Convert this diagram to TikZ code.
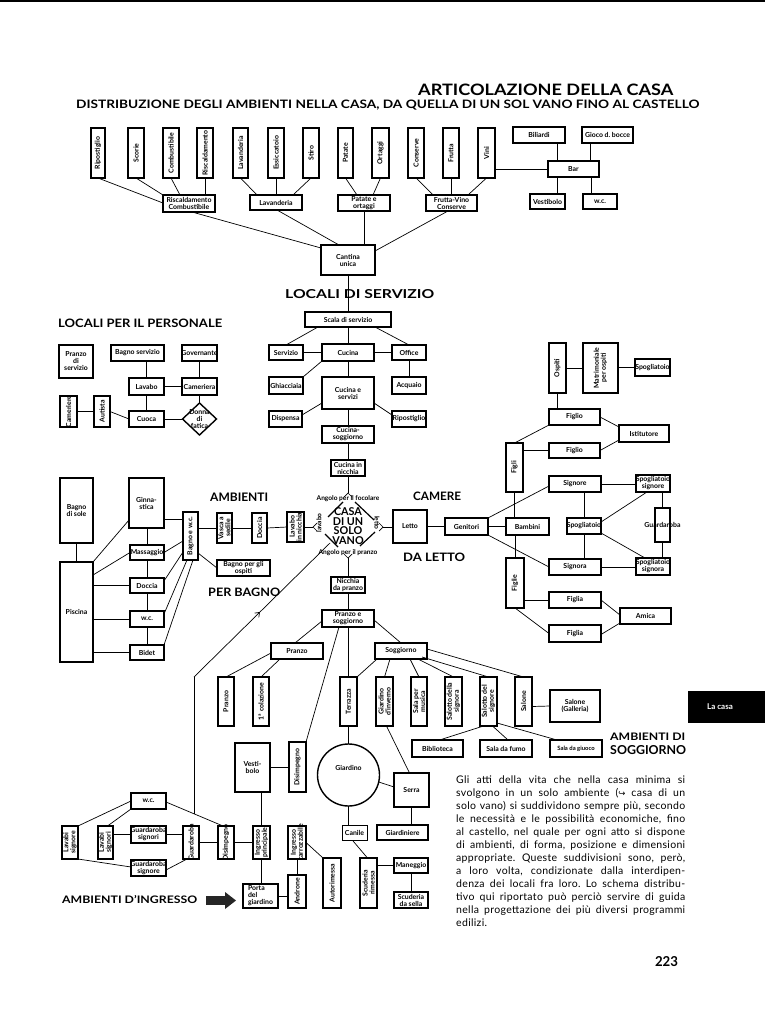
\documentclass[tikz,border=0pt]{standalone}
\usepackage{fontspec}
\usepackage{graphicx}
\setmainfont{Lato}
\newfontfamily\dejavu{DejaVu Sans}
\newfontfamily\parafont[LetterSpace=3]{Lato}
\usetikzlibrary{calc,shapes.geometric,arrows.meta}
\tikzset{
  box/.style={draw,line width=1.4pt,inner sep=0pt,outer sep=0pt},
  lbl/.style={font=\fontsize{6.9}{7}\selectfont\bfseries,align=center,inner sep=0pt},
  small/.style={font=\fontsize{6.6}{7}\selectfont\bfseries,inner sep=0pt},
  con/.style={line width=0.7pt},
  hd/.style={inner sep=0pt,anchor=west},
  para/.style={inner sep=0pt,anchor=base west,font=\parafont\fontsize{10.5}{13}\selectfont},
}
\newcommand\bx[7][]{%
  \pgfmathsetmacro\bw{#5-#3}\pgfmathsetmacro\bh{#6-#4}%
  \node[box,minimum width=\bw pt,minimum height=\bh pt] (#2) at ({(#3+#5)/2},{(#4+#6)/2}) {};
  \node[lbl,#1] (#2l) at (#2.center) {#7};}
\newcommand\bv[7][]{%
  \pgfmathsetmacro\bw{#5-#3}\pgfmathsetmacro\bh{#6-#4}%
  \node[box,minimum width=\bw pt,minimum height=\bh pt] (#2) at ({(#3+#5)/2},{(#4+#6)/2}) {};
  \node[lbl,rotate=90,#1] (#2l) at (#2.center) {#7};}
\newcommand\hdtext[3]{\resizebox{#1pt}{#2pt}{\bfseries #3}}
\frenchspacing
\begin{document}
\begin{tikzpicture}[x=1pt,y=-1pt]
\useasboundingbox (0,0) rectangle (765,1024);
\fill[white] (0,0) rectangle (765,1024);
\fill[black] (0,0) rectangle (765,2.5);

% ---------- titles ----------
\node[hd] (title) at (418,90) {\hdtext{255}{11.5}{ARTICOLAZIONE DELLA CASA}};
\node[hd] (subtitle) at (76,105) {\hdtext{623}{8.5}{DISTRIBUZIONE DEGLI AMBIENTI NELLA CASA, DA QUELLA DI UN SOL VANO FINO AL CASTELLO}};

% ---------- cantina ----------
\bv{rip1}{91}{128}{105}{178}{Ripostiglio}
\bv{scor}{128}{128}{144}{178}{Scorie}
\bv{comb}{163}{128}{179}{178}{Combustibile}
\bv{risc}{197}{128}{213}{178}{Riscaldamento}
\bv{lav1}{233}{128}{248}{178}{Lavanderia}
\bv{essi}{268}{128}{284}{178}{Essiccatoio}
\bv{stir}{303}{128}{319}{178}{Stiro}
\bv{pata}{338}{128}{353}{178}{Patate}
\bv{orta}{372}{128}{389}{178}{Ortaggi}
\bv{cons}{408}{128}{424}{178}{Conserve}
\bv{frut}{443}{128}{459}{178}{Frutta}
\bv{vini}{478}{128}{495}{178}{Vini}
\bx{riscomb}{163}{195}{215}{212}{Riscaldamento\\Combustibile}
\bx{lav2}{250}{195}{302}{210}{Lavanderia}
\bx{patort}{338}{195}{390}{211}{Patate e\\ortaggi}
\bx{frvc}{426}{195}{477}{211}{Frutta-Vino\\Conserve}
\bx{cantina}{321}{245}{375}{275}{Cantina\\unica}
\bx{bil}{513}{127}{565}{143}{Biliardi}
\bx{goc}{582}{127}{633}{143}{Gioco d. bocce}
\bx{bar}{548}{161}{599}{177}{Bar}
\bx{vest1}{530}{194}{565}{209}{Vestibolo}
\bx{wc1}{583}{194}{617}{209}{w.c.}

\draw[con] (rip1.south) -- ($(riscomb.north west)+(0,8)$);
\draw[con] (scor.south) -- (riscomb.north west);
\draw[con] (comb.south) -- ($(riscomb.north west)+(17,0)$);
\draw[con] (risc.south) -- (risc.south |- riscomb.north);
\draw[con] ($(riscomb.south west)+(29,0)$) -- ($(cantina.north west)+(0,3)$);
\draw[con] (lav1.south) -- ($(lav2.north west)+(7,0)$);
\draw[con] (essi.south) -- (essi.south |- lav2.north);
\draw[con] (stir.south) -- ($(lav2.north east)+(-9,0)$);
\draw[con] ($(lav2.south)+(1,0)$) -- ($(cantina.north)+(-9,0)$);
\draw[con] (pata.south) -- ($(patort.north west)+(19,0)$);
\draw[con] (orta.south) -- ($(patort.north west)+(35,0)$);
\draw[con] (patort.south) -- (patort.south |- cantina.north);
\draw[con] (cons.south) -- ($(frvc.north west)+(7,0)$);
\draw[con] (frut.south) -- (frut.south |- frvc.north);
\draw[con] (vini.south) -- ($(frvc.north east)+(-9,0)$);
\draw[con] ($(frvc.south west)+(22,0)$) -- ($(cantina.north east)+(0,6)$);
\draw[con] (vini.east |- bar.west) -- (bar.west);
\draw[con] ($(bil.south west)+(44,0)$) -- ($(bar.north west)+(9,0)$);
\draw[con] ($(goc.south west)+(8,0)$) -- ($(bar.north west)+(42,0)$);
\draw[con] ($(bar.south west)+(9,0)$) -- ($(vest1.north west)+(27,0)$);
\draw[con] ($(bar.south west)+(43,0)$) -- ($(wc1.north west)+(8,0)$);

% ---------- locali di servizio ----------
\bx{scala}{305}{312}{391}{327}{Scala di servizio}
\bx{serv}{269}{345}{303}{360}{Servizio}
\bx{cuc}{322}{344}{374}{361}{Cucina}
\bx{offi}{392}{345}{426}{360}{Office}
\bx{ghia}{269}{377}{303}{394}{Ghiacciaia}
\bx{cucs}{322}{377}{374}{409}{Cucina e\\servizi}
\bx{acqu}{392}{377}{426}{394}{Acquaio}
\bx{disp}{269}{411}{302}{427}{Dispensa}
\bx{ripo}{392}{411}{426}{427}{Ripostiglio}
\bx{cucsog}{322}{426}{374}{443}{Cucina-\\soggiorno}
\bx{cucn}{331}{460}{365}{476}{Cucina in\\nicchia}
\node[hd] (hserv) at (285,294) {\hdtext{149}{9}{LOCALI DI SERVIZIO}};
\draw[con] (cantina.south) -- (cantina.south |- scala.north);
\draw[con] (scala.south) -- (scala.south |- cuc.north);
\draw[con] ($(scala.south west)+(13,0)$) -- (serv.north);
\draw[con] ($(scala.south east)+(-16,0)$) -- (offi.north);
\draw[con] (serv.east) -- (cuc.west);
\draw[con] (cuc.east) -- (offi.west);
\draw[con] (cuc.south west) -- (ghia.north east);
\draw[con] (cuc.south) -- (cucs.north);
\draw[con] (offi.south) -- (acqu.north);
\draw[con] ($(cucs.south west)+(0,-6)$) -- ($(disp.north east)+(0,4)$);
\draw[con] ($(cucs.south east)+(0,-6)$) -- ($(ripo.north west)+(0,4)$);
\draw[con] (cucs.south) -- (cucsog.north);
\draw[con] (cucsog.south) -- (cucn.north);

% ---------- locali per il personale ----------
\node[hd] (hpers) at (58,323) {\hdtext{164}{8.5}{LOCALI PER IL PERSONALE}};
\bx{pds}{59}{345}{93}{378}{Pranzo\\di\\servizio}
\bx{bgs}{111}{345}{164}{361}{Bagno servizio}
\bx{gov}{182}{345}{217}{361}{Governante}
\bx{lavp}{129}{378}{164}{395}{Lavabo}
\bx{came}{182}{378}{217}{395}{Cameriera}
\bv{camr}{60}{396}{77}{427}{Cameriere}
\bv{auti}{94}{396}{110}{427}{Autista}
\bx{cuoc}{129}{411}{164}{427}{Cuoca}
\node[box,diamond,minimum width=34pt,minimum height=32pt] (dfat) at (199.5,419) {};
\node[lbl] (dfatl) at (dfat.center) {Donna\\di\\fatica};
\draw[con] (lavp.north |- bgs.south) -- (lavp.north);
\draw[con] (lavp.south) -- (cuoc.north);
\draw[con] (lavp.east) -- (came.west);
\draw[con] (gov.south) -- (came.north);
\draw[con] (came.south) -- (dfat.north);
\draw[con] (cuoc.east) -- (dfat.west);
\draw[con] (camr.east) -- (auti.west);
\draw[con] (auti.east) -- (cuoc.west);

% ---------- casa di un solo vano ----------
\coordinate (ftop) at (348,493);
\coordinate (fbot) at (348,558);
\coordinate (fleft) at (313,527);
\coordinate (fright) at (383,527);
\draw[con] (cucn.south) -- (ftop);
\draw[con] (344,497) -- (ftop) -- (352,497);
\draw[con] (344,554) -- (fbot) -- (352,554);
\draw[con] (317,523) -- (fleft) -- (317,531);
\draw[con] (379,523) -- (fright) -- (379,531);
\draw[line width=1.2pt] (328,517) -- (343,502);
\draw[line width=1.2pt] (355,502) -- (374,520);
\draw[line width=1.2pt] (325,534) -- (338,547);
\draw[line width=1.2pt] (360,546) -- (375,532);
\node[small] (afoc) at (348,499) {Angolo per il focolare};
\node[small] (apra) at (348,553) {Angolo per il pranzo};
\node[small,rotate=90] (tlav) at (319,523) {lavabo};
\node[small,rotate=-90] (tlet) at (377,523) {letto};
\node[inner sep=0pt,align=center,font=\fontsize{10.8}{9.6}\selectfont\bfseries] (casa) at (348,526) {CASA\\DI UN\\SOLO\\VANO};
\coordinate (octbl) at (330,543);

% ---------- bagno ----------
\node[hd] (hamb) at (210,497) {\hdtext{58}{8.5}{AMBIENTI}};
\node[hd] (hbag) at (208,592) {\hdtext{72}{8.5}{PER BAGNO}};
\bx{bsol}{60}{478}{93}{543}{Bagno\\di sole}
\bx{pisc}{60}{562}{93}{662}{Piscina}
\bx{ginn}{129}{478}{164}{528}{Ginna-\\stica}
\bx{mass}{130}{545}{164}{560}{Massaggio}
\bx{docc}{130}{578}{164}{593}{Doccia}
\bx{wcb}{130}{611}{164}{627}{w.c.}
\bx{bide}{130}{645}{164}{660}{Bidet}
\bv{bwc}{183}{512}{198}{560}{Bagno e w.c.}
\bv{vasc}{217}{513}{232}{543}{Vasca a\\sedile}
\bv{doc2}{252}{513}{267}{543}{Doccia}
\bv{lavn}{287}{512}{304}{542}{Lavabo\\in nicchia}
\bx{bop}{217}{560}{270}{576}{Bagno per gli\\ospiti}
\draw[con] (bsol.south) -- (pisc.north);
\draw[con] (pisc.north east) -- ($(ginn.south west)+(0,-8)$);
\draw[con] ($(pisc.north east)+(0,13)$) -- (mass.west);
\draw[con] (docc.west -| pisc.east) -- (docc.west);
\draw[con] (wcb.west -| pisc.east) -- (wcb.west);
\draw[con] (bide.west -| pisc.east) -- (bide.west);
\draw[con] (mass.north |- ginn.south) -- (mass.north);
\draw[con] (mass.south) -- (docc.north);
\draw[con] (docc.south) -- (wcb.north);
\draw[con] (wcb.south) -- (bide.north);
\draw[con] ($(ginn.south east)+(0,-9)$) -- ($(bwc.north west)+(0,7)$);
\draw[con] (mass.east) -- ($(bwc.south west)+(0,-19)$);
\draw[con] ($(docc.north east)+(0,3)$) -- ($(bwc.south west)+(0,-8)$);
\draw[con] ($(wcb.north east)+(0,3)$) -- ($(bwc.south west)+(4,0)$);
\draw[con] (bide.north east) -- ($(bwc.south west)+(10,0)$);
\draw[con] (bwc.east |- vasc.west) -- (vasc.west);
\draw[con] (vasc.east) -- (doc2.west);
\draw[con] (doc2.east) -- (lavn.west);
\draw[con] (lavn.east) -- (fleft);
\draw[con] ($(bwc.south east)+(0,-7)$) -- (bop.west);

% ---------- camere da letto ----------
\node[hd] (hcam) at (413,496) {\hdtext{48}{8.5}{CAMERE}};
\node[hd] (hlet) at (403,557) {\hdtext{62}{8.5}{DA LETTO}};
\bx{letto}{393}{510}{427}{543}{Letto}
\bx{geni}{445}{518}{488}{535}{Genitori}
\bx{bamb}{506}{518}{549}{535}{Bambini}
\bv{figli}{506}{443}{523}{492}{Figli}
\bv{figle}{506}{558}{524}{608}{Figlie}
\bv{osp}{549}{343}{566}{393}{Ospiti}
\bv{matr}{583}{343}{618}{393}{Matrimoniale\\per ospiti}
\bx{spo1}{635}{359}{670}{376}{Spogliatoio}
\bx{fig1}{549}{409}{600}{425}{Figlio}
\bx{isti}{619}{425}{669}{442}{Istitutore}
\bx{fig2}{549}{443}{600}{458}{Figlio}
\bx{sign}{549}{476}{601}{492}{Signore}
\bx{spsg}{636}{475}{670}{492}{Spogliatoio\\signore}
\bx{guar}{655}{508}{670}{542}{Guardaroba}
\bx{spo2}{567}{518}{601}{534}{Spogliatoio}
\bx{sigr}{549}{559}{601}{575}{Signora}
\bx{spsa}{636}{558}{670}{575}{Spogliatoio\\signora}
\bx{figa1}{549}{592}{601}{608}{Figlia}
\bx{amic}{620}{608}{671}{624}{Amica}
\bx{figa2}{549}{625}{601}{642}{Figlia}
\draw[con] (fright) -- (fright -| letto.west);
\draw[con] (letto.east |- geni.west) -- (geni.west);
\draw[con] (geni.east) -- (bamb.west);
\draw[con] (figli.south) -- (figli.south |- bamb.north);
\draw[con] (figle.north) -- (figle.north |- bamb.south);
\draw[con] (osp.east) -- (matr.west);
\draw[con] (matr.east |- spo1.west) -- (spo1.west);
\draw[con] (osp.south) -- (osp.south |- fig1.north);
\draw[con] (fig1.east) -- ($(isti.north west)+(0,2)$);
\draw[con] (fig2.east) -- ($(isti.south west)+(0,-2)$);
\draw[con] (figli.north) -- (fig1.south west);
\draw[con] (fig2.west -| figli.east) -- (fig2.west);
\draw[con] (geni.north east) -- ($(sign.south west)+(0,-6)$);
\draw[con] (geni.south east) -- (sigr.west);
\draw[con] (sign.east) -- (sign.east -| spsg.west);
\draw[con] (spo2.north |- sign.south) -- (spo2.north);
\draw[con] (spo2.south) -- (spo2.south |- sigr.north);
\draw[con] (sigr.east) -- (sigr.east -| spsa.west);
\draw[con] ($(spsg.south west)+(11,0)$) -- ($(spo2.north east)+(0,4)$);
\draw[con] ($(spo2.south east)+(0,-1)$) -- ($(spsa.north west)+(9,0)$);
\draw[con] (guar.north |- spsg.south) -- (guar.north);
\draw[con] (guar.south) -- (guar.south |- spsa.north);
\draw[con] (figa1.west -| figle.east) -- (figa1.west);
\draw[con] (figle.south) -- (figa2.west);
\draw[con] (figa1.east) -- ($(amic.west)+(0,-1)$);
\draw[con] ($(figa2.east)+(0,1)$) -- ($(amic.south west)+(0,-1)$);

% ---------- pranzo e soggiorno ----------
\bx{nic}{331}{577}{365}{593}{Nicchia\\da pranzo}
\bx{pes}{322}{610}{374}{627}{Pranzo e\\soggiorno}
\bx{pran}{271}{643}{323}{659}{Pranzo}
\bx{sogg}{375}{643}{427}{659}{Soggiorno}
\bv{pran1}{218}{677}{234}{726}{Pranzo}
\bv{cola}{253}{677}{269}{726}{1ª colazione}
\bv{terr}{340}{677}{357}{726}{Terrazza}
\bv{gdin}{376}{677}{393}{726}{Giardino\\d'inverno}
\bv{spm}{411}{677}{427}{726}{Sala per\\musica}
\bv{ssig}{445}{677}{462}{726}{Salotto della\\signora}
\bv{ssgn}{480}{677}{497}{726}{Salotto del\\signore}
\bv{salo}{515}{677}{532}{726}{Salone}
\bx{salg}{550}{690}{600}{722}{Salone\\(Galleria)}
\bx{bibl}{412}{740}{463}{757}{Biblioteca}
\bx{sfum}{480}{740}{532}{757}{Sala da fumo}
\bx[font=\fontsize{5.9}{6}\selectfont\bfseries]{sgiu}{550}{740}{602}{757}{Sala da giuoco}
\node[hd] (hsog1) at (610,737) {\hdtext{75}{7.5}{AMBIENTI DI}};
\node[hd] (hsog2) at (610,750) {\hdtext{76}{9}{SOGGIORNO}};
\draw[con] (fbot) -- (nic.north);
\draw[con] (nic.south) -- (pes.north);
\draw[con] ($(pes.south west)+(0,-6)$) -- ($(pran.north)+(-2,0)$);
\draw[con] ($(pes.south east)+(0,-7)$) -- (sogg.north);
\draw[con] ($(pran.south west)+(0,-6)$) -- (pran1.north);
\draw[con] ($(pran.south west)+(9,0)$) -- (cola.north);
\draw[con] (terr.north |- pes.south) -- (terr.north);
\draw[con] ($(sogg.south west)+(2,0)$) -- (terr.north east);
\draw[con] ($(sogg.south west)+(15,0)$) -- (gdin.north);
\draw[con] ($(sogg.south)+(9,0)$) -- (spm.north);
\draw[con] ($(sogg.south east)+(-9,0)$) -- (ssig.north);
\draw[con] ($(sogg.south east)+(-5,-2)$) -- (ssgn.north);
\draw[con] ($(sogg.east)+(0,-2)$) -- (salo.north);
\draw[con] ($(salo.east)+(0,5)$) -- (salg.west);
\draw[con] ($(ssgn.south)+(-5,0)$) -- ($(bibl.north)+(2,0)$);
\draw[con] ($(ssgn.south)+(4,0)$) -- ($(sfum.north)+(2,0)$);
\draw[con] ($(ssgn.south east)+(0,-3)$) -- ($(sgiu.north west)+(7,0)$);

% ---------- giardino ----------
\node[box,circle,minimum size=62pt] (giar) at (348.5,775) {};
\node[lbl] (giarl) at (348.5,768) {Giardino};
\bx{serra}{394}{773}{429}{807}{Serra}
\bx{gard}{377}{825}{428}{840}{Giardiniere}
\node[draw,line width=0.7pt,inner sep=0pt,minimum width=25pt,minimum height=15pt] (cani) at (354.5,832.5) {};
\node[lbl] (canil) at (cani.center) {Canile};
\bv{scri}{360}{858}{377}{908}{Scuderia\\rimessa}
\bx{mane}{394}{858}{428}{873}{Maneggio}
\bx{sdsl}{394}{892}{428}{908}{Scuderia\\da sella}
\bv{autor}{323}{858}{341}{908}{Autorimessa}
\draw[con] (terr.south) -- (giar.north);
\draw[con] ($(gdin.south)+(2,0)$) -- ($(serra.north)+(-2,0)$);
\draw[con] (giar.-13) -- ($(serra.west)+(0,-3)$);
\draw[con] (serra.south) -- (serra.south |- gard.north);
\draw[con] (giar.south) -- (giar.south |- cani.north);
\draw[con] ($(cani.south)+(-2,0)$) -- ($(scri.north)+(-1,0)$);
\draw[con] (mane.west -| scri.east) -- (mane.west);
\draw[con] (mane.south) -- (sdsl.north);

% ---------- ingresso ----------
\bx{vest2}{235}{743}{270}{792}{Vesti-\\bolo}
\bv{dis1}{289}{742}{306}{792}{Disimpegno}
\bx{wc2}{131}{793}{166}{809}{w.c.}
\bv{lvse}{62}{826}{78}{859}{Lavabi\\signore}
\bv{lvsi}{98}{826}{113}{859}{Lavabi\\signori}
\bx{gsi}{131}{826}{166}{843}{Guardaroba\\signori}
\bx{gse}{131}{860}{166}{876}{Guardaroba\\signore}
\bv{guar2}{183}{826}{199}{859}{Guardaroba}
\bv{dis2}{218}{826}{234}{859}{Disimpegno}
\bv{ingp}{253}{826}{270}{859}{Ingresso\\principale}
\bv{ingc}{288}{826}{306}{859}{Ingresso\\carrozzabile}
\bx[align=left]{porta}{243}{884}{278}{908}{Porta\\del\\giardino}
\bv{andr}{288}{875}{306}{908}{Androne}
\node[hd] (hing) at (62,900) {\hdtext{135}{8}{AMBIENTI D'INGRESSO}};
\fill[black!85] (206,896) rectangle (225,905);
\fill[black!85] (225,892) -- (236,900.5) -- (225,909) -- cycle;
\draw[con] ($(pes.south)+(-9,0)$) -- (dis1.north east);
\draw[con] (vest2.east) -- (vest2.east -| dis1.west);
\draw[con] (ingp.north |- vest2.south) -- (ingp.north);
\draw[con] (ingp.south) -- (ingp.south |- porta.north);
\draw[con] (porta.east) -- (porta.east -| andr.west);
\draw[con] (andr.north) -- (ingc.south);
\draw[con] (dis2.east) -- (ingp.west);
\draw[con] (guar2.east) -- (dis2.west);
\draw[con] (gsi.east) -- (gsi.east -| guar2.west);
\draw[con] (gsi.west -| lvsi.east) -- (gsi.west);
\draw[con] ($(gse.east)+(0,2)$) -- ($(guar2.south west)+(4,0)$);
\draw[con] (lvse.north east) -- (wc2.west);
\draw[con] ($(lvsi.north)+(2,0)$) -- (wc2.south west);
\draw[con] (lvse.south east) -- ($(gse.west)+(0,-1)$);
\coordinate (wcR) at ($(wc2.east)+(0,1)$);
\coordinate (disT) at ($(dis2.north)+(-3,0)$);
\draw[con] (wcR) -- (disT);
\draw[con] (ingc.east) -- (autor.north west);
\coordinate (jn) at ($(wcR)!0.491!(disT)$);
\coordinate (kink) at (jn |- pran1.north);
\coordinate (amid) at ($(kink)!0.485!(octbl)$);
\draw[con] (jn) -- (kink);
\draw[con,-{Straight Barb[length=4pt,width=6pt]}] (kink) -- (amid);
\draw[con] (amid) -- (octbl);

% ---------- text ----------
\node[para] (p1) at (456,783) {\makebox[229pt][s]{Gli atti della vita che nella casa minima si}};
\node[para] (p2) at (456,796) {\makebox[229pt][s]{svolgono in un solo ambiente ({\dejavu\fontsize{8.5}{8}\selectfont ↪} casa di un}};
\node[para] (p3) at (456,809) {\makebox[229pt][s]{solo vano) si suddividono sempre più, secondo}};
\node[para] (p4) at (456,822) {\makebox[229pt][s]{le necessità e le possibilità economiche, fino}};
\node[para] (p5) at (456,835) {\makebox[229pt][s]{al castello, nel quale per ogni atto si dispone}};
\node[para] (p6) at (456,848) {\makebox[229pt][s]{di ambienti, di forma, posizione e dimensioni}};
\node[para] (p7) at (456,861) {\makebox[229pt][s]{appropriate. Queste suddivisioni sono, però,}};
\node[para] (p8) at (456,874) {\makebox[229pt][s]{a loro volta, condizionate dalla interdipen-}};
\node[para] (p9) at (456,887) {\makebox[229pt][s]{denza dei locali fra loro. Lo schema distribu-}};
\node[para] (p10) at (456,900) {\makebox[229pt][s]{tivo qui riportato può perciò servire di guida}};
\node[para] (p11) at (456,913) {\makebox[229pt][s]{nella progettazione dei più diversi programmi}};
\node[para] (p12) at (456,926) {edilizi.};

% ---------- tab & page number ----------
\node[fill=black,inner sep=0pt,minimum width=77pt,minimum height=32pt] (tab) at (726.5,707) {};
\node[inner sep=0pt,text=white,font=\fontsize{8}{8}\selectfont\bfseries] (tabl) at (720,707) {La casa};
\node[inner sep=0pt] (pgno) at (666.5,962) {\resizebox{23pt}{10pt}{\bfseries 223}};
\end{tikzpicture}
\end{document}
